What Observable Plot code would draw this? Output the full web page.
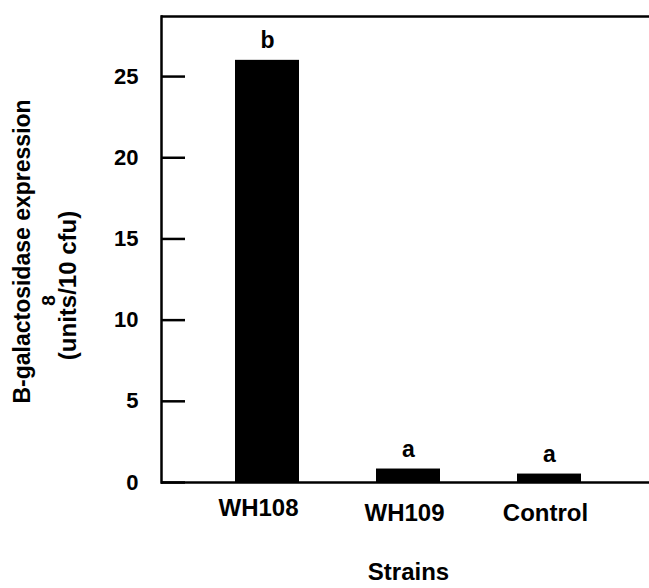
<!DOCTYPE html>
<html>
<head>
<meta charset="utf-8">
<script src="https://cdn.jsdelivr.net/npm/d3@7"></script>
<script src="https://cdn.jsdelivr.net/npm/@observablehq/plot@0.6"></script>
<style>
  html, body { margin: 0; padding: 0; background: #fff; }
  #chart svg { display: block; }
</style>
</head>
<body>
<div id="chart"></div>
<script>
const strains = ["WH108", "WH109", "Control"];
const expression = [26.0, 0.83, 0.52];
const letters = ["b", "a", "a"];
const yTicks = [0, 5, 10, 15, 20, 25];
const yTitle = ["B-galactosidase expression", "8", "(units/10 cfu)"];
const xTitle = "Strains";

const data = strains.map((s, i) => ({strain: s, value: expression[i], letter: letters[i]}));
const font = "'Liberation Sans', Arial, Helvetica, sans-serif";

const chart = Plot.plot({
  width: 649,
  height: 588,
  marginLeft: 161,
  marginRight: 0,
  marginTop: 16,
  marginBottom: 106,
  style: {fontFamily: font, fontWeight: "bold", fontSize: "22px", background: "#fff", color: "#000"},
  x: {domain: strains, range: [156.5, 658.5], padding: 0.548, axis: null},
  y: {domain: [0, 28.7], axis: null},
  marks: [
    Plot.barY(data, {x: "strain", y: "value", fill: "#000"}),
    Plot.ruleY([0], {stroke: "#000", strokeWidth: 2.5}),
    Plot.ruleY([28.7], {stroke: "#000", strokeWidth: 2.5}),
    Plot.frame({anchor: "left", stroke: "#000", strokeWidth: 2.5}),
    Plot.axisY(yTicks, {anchor: "left", tickSize: -24, tickPadding: 47, strokeWidth: 2.5, fontSize: 22, fontWeight: "bold", label: null}),
    Plot.text(data, {x: "strain", y: "value", text: "letter", lineAnchor: "bottom", dy: -12, fontSize: 23, fontWeight: "bold"}),
    Plot.axisX(["WH108"], {anchor: "bottom", tickSize: 0, tickPadding: 16, dx: -9, fontSize: 24, fontWeight: "bold", label: null}),
    Plot.axisX(["WH109", "Control"], {anchor: "bottom", tickSize: 0, tickPadding: 21, dx: -4, fontSize: 24, fontWeight: "bold", label: null}),
    Plot.text([xTitle], {frameAnchor: "bottom", x: () => "WH109", dy: 97, lineAnchor: "bottom", fontSize: 24, fontWeight: "bold"}),
    Plot.text([yTitle[0]], {frameAnchor: "left", textAnchor: "middle", dx: -139, dy: 2, rotate: -90, fontSize: 23, fontWeight: "bold"}),
    Plot.text([yTitle[1]], {frameAnchor: "left", textAnchor: "middle", dx: -113, dy: 51, rotate: -90, fontSize: 19, fontWeight: "bold"}),
    Plot.text([yTitle[2]], {frameAnchor: "left", textAnchor: "middle", dx: -93, dy: 36, rotate: -90, fontSize: 24, fontWeight: "bold"})
  ]
});
document.getElementById("chart").appendChild(chart);
</script>
</body>
</html>
